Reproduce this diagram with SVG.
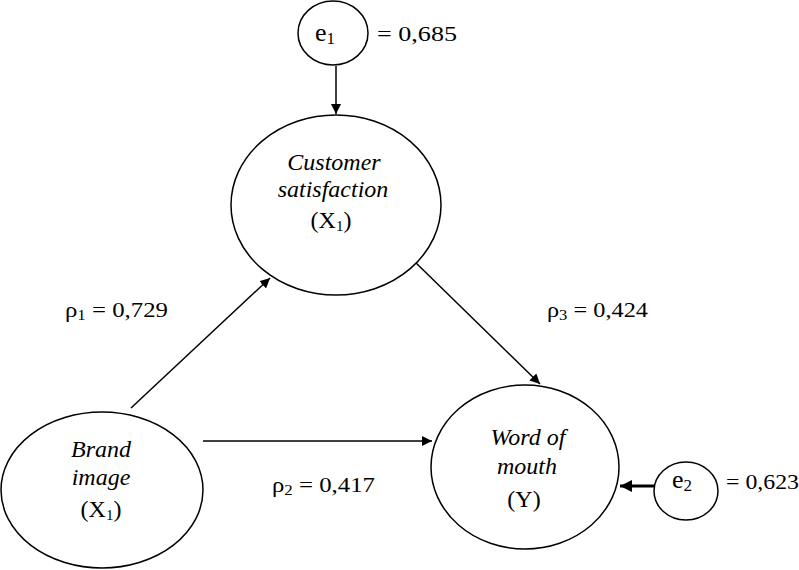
<svg xmlns="http://www.w3.org/2000/svg" width="799" height="570" viewBox="0 0 799 570">
<style>
text{font-family:'Liberation Serif',serif;fill:#000}
.n{fill:#fff;stroke:#000;stroke-width:1.5}
.l{font-size:24px;text-anchor:middle}
.i{font-style:italic}
.c{font-size:22px}
.ev{font-size:26px}
.e{stroke:#000;stroke-width:1.5;fill:none;marker-end:url(#a)}
.s{font-size:15px}
.s2{font-size:17px}
</style>
<defs>
<marker id="a" viewBox="0 0 10 10" refX="10" refY="5" markerWidth="10" markerHeight="10" markerUnits="userSpaceOnUse" orient="auto">
<path d="M0,0 L10,5 L0,10 z" fill="#000"/>
</marker>
<marker id="b" viewBox="0 0 10 10" refX="10" refY="5" markerWidth="12" markerHeight="12" markerUnits="userSpaceOnUse" orient="auto">
<path d="M0,0 L10,5 L0,10 z" fill="#000"/>
</marker>
</defs>
<g id="connectors">
<line class="e" x1="336" y1="66" x2="336" y2="114"/>
<line class="e" x1="131" y1="408" x2="270" y2="278"/>
<line class="e" x1="413" y1="260" x2="540" y2="384"/>
<line class="e" x1="203" y1="441" x2="432" y2="441"/>
<line x1="654" y1="486" x2="620" y2="486" stroke="#000" stroke-width="3" marker-end="url(#b)"/>
</g>
<g id="e1">
<ellipse class="n" cx="333" cy="33" rx="35" ry="32"/>
<text class="ev" x="315" y="41">e<tspan class="s2" dy="3">1</tspan></text>
</g>
<text class="c" x="377" y="41" textLength="80" lengthAdjust="spacingAndGlyphs">= 0,685</text>
<g id="customer-satisfaction">
<ellipse class="n" cx="336" cy="205" rx="105" ry="90"/>
<text class="l i" x="334" y="170">Customer</text>
<text class="l i" x="333" y="197">satisfaction</text>
<text class="l" x="331" y="228">(X<tspan class="s" dy="3">1</tspan><tspan dy="-3">)</tspan></text>
</g>
<g id="brand-image">
<ellipse class="n" cx="102" cy="490" rx="101" ry="78"/>
<text class="l i" x="101" y="457">Brand</text>
<text class="l i" x="101" y="485">image</text>
<text class="l" x="101" y="517">(X<tspan class="s" dy="3">1</tspan><tspan dy="-3">)</tspan></text>
</g>
<g id="word-of-mouth">
<ellipse class="n" cx="525" cy="467" rx="94" ry="82"/>
<text class="l i" x="528" y="445">Word of</text>
<text class="l i" x="527" y="474">mouth</text>
<text class="l" x="524" y="507">(Y)</text>
</g>
<g id="e2">
<ellipse class="n" cx="686" cy="491" rx="32" ry="29"/>
<text class="ev" x="672" y="488">e<tspan class="s2" dy="3">2</tspan></text>
</g>
<text class="c" x="726" y="489" textLength="73" lengthAdjust="spacingAndGlyphs">= 0,623</text>
<text class="c" x="65" y="317" textLength="103" lengthAdjust="spacingAndGlyphs">ρ<tspan class="s" dy="3">1</tspan><tspan dy="-3"> = 0,729</tspan></text>
<text class="c" x="547" y="317" textLength="101" lengthAdjust="spacingAndGlyphs">ρ<tspan class="s" dy="3">3</tspan><tspan dy="-3"> = 0,424</tspan></text>
<text class="c" x="272" y="492" textLength="103" lengthAdjust="spacingAndGlyphs">ρ<tspan class="s" dy="3">2</tspan><tspan dy="-3"> = 0,417</tspan></text>
</svg>
